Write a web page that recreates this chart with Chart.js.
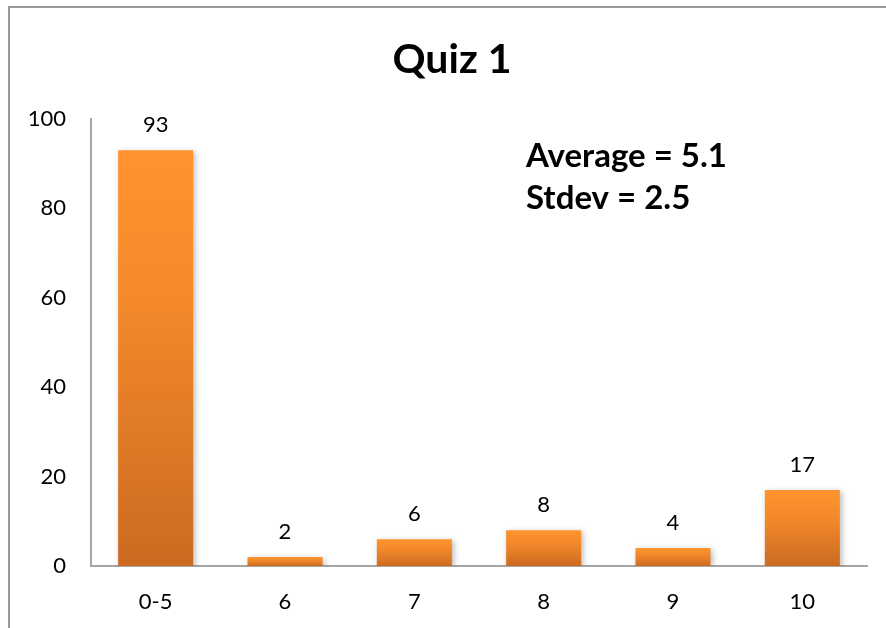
<!DOCTYPE html>
<html>
<head>
<meta charset="utf-8">
<script src="https://cdn.jsdelivr.net/npm/chart.js@4"></script>
<style>
  html, body { margin: 0; padding: 0; background: #fff; overflow: hidden; }
  #wrap { position: relative; width: 886px; height: 628px; }
  #frame { position: absolute; left: 8px; top: 6px; width: 900px; height: 700px; border: 2px solid #9a9a9a; }
  canvas { position: absolute; left: 0; top: 0; }
</style>
</head>
<body>
<div id="wrap">
  <div id="frame"></div>
  <canvas id="chart" width="886" height="628"></canvas>
</div>
<script>
const categories = ['0-5', '6', '7', '8', '9', '10'];
const counts = [93, 2, 6, 8, 4, 17];
const yTicks = [0, 20, 40, 60, 80, 100];
const chartTitle = 'Quiz 1';
const notes = ['Average = 5.1', 'Stdev = 2.5'];

const fontFamily = 'Lato, "Open Sans", sans-serif';

// gradient for each bar, light on top, darker at the base
function barGradient(context) {
    const chart = context.chart;
    const yScale = chart.scales.y;
    if (!yScale || context.parsed === undefined) return '#f98f2d';
    const top = yScale.getPixelForValue(context.parsed.y);
    const base = yScale.getPixelForValue(0);
    if (!isFinite(top) || !isFinite(base) || top === base) return '#f98f2d';
    const g = chart.ctx.createLinearGradient(0, top, 0, base);
    g.addColorStop(0, '#ff932f');
    g.addColorStop(0.35, '#f48a2b');
    g.addColorStop(1, '#cb6a20');
    return g;
}

const shadowPlugin = {
    id: 'barShadow',
    beforeDatasetsDraw(chart) {
        const ctx = chart.ctx;
        ctx.save();
        ctx.shadowColor = 'rgba(0,0,0,0.28)';
        ctx.shadowBlur = 6;
        ctx.shadowOffsetX = 2;
        ctx.shadowOffsetY = 2;
    },
    afterDatasetsDraw(chart) {
        chart.ctx.restore();
    }
};

const labelsPlugin = {
    id: 'textLayer',
    afterDraw(chart) {
        const ctx = chart.ctx;
        ctx.save();
        ctx.fillStyle = '#000';
        ctx.textAlign = 'center';
        ctx.textBaseline = 'middle';

        // values above bars
        ctx.font = '22px ' + fontFamily;
        const meta = chart.getDatasetMeta(0);
        meta.data.forEach((bar, i) => {
            ctx.fillText(String(counts[i]), bar.x, bar.y - 25);
        });

        // title
        ctx.font = 'bold 41px ' + fontFamily;
        ctx.fillText(chartTitle, 452, 60);

        // stats note
        ctx.textAlign = 'left';
        ctx.font = 'bold 33px ' + fontFamily;
        ctx.fillText(notes[0], 526, 156);
        ctx.fillText(notes[1], 526, 198);
        ctx.restore();
    }
};

const ctx = document.getElementById('chart').getContext('2d');
const myChart = new Chart(ctx, {
    type: 'bar',
    data: {
        labels: categories,
        datasets: [{
            data: counts,
            backgroundColor: barGradient,
            borderWidth: 0,
            barPercentage: 0.58,
            categoryPercentage: 1.0
        }]
    },
    options: {
        responsive: false,
        animation: false,
        events: [],
        layout: { padding: { top: 119, right: 19, bottom: 0, left: 0 } },
        plugins: {
            legend: { display: false },
            title: { display: false },
            tooltip: { enabled: false }
        },
        scales: {
            x: {
                grid: { display: false, drawTicks: false },
                border: { display: true, color: '#a6a6a6', width: 2 },
                ticks: {
                    color: '#000',
                    padding: 23,
                    font: { family: fontFamily, size: 22 }
                },
                afterFit(scale) { scale.height = 62; }
            },
            y: {
                min: 0,
                max: 100,
                afterBuildTicks(scale) {
                    scale.ticks = yTicks.map(v => ({ value: v }));
                },
                grid: { display: false, drawTicks: false },
                border: { display: true, color: '#a6a6a6', width: 2 },
                ticks: {
                    color: '#000',
                    padding: 25,
                    font: { family: fontFamily, size: 22 }
                },
                afterFit(scale) { scale.width = 91; }
            }
        }
    },
    plugins: [shadowPlugin, labelsPlugin]
});
</script>
</body>
</html>
